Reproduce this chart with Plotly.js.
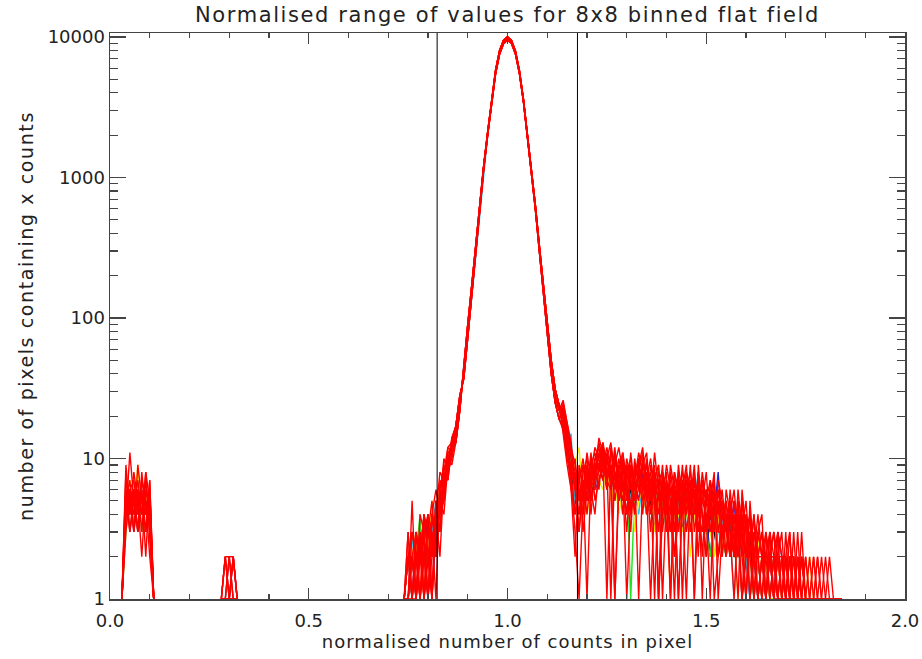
<!DOCTYPE html>
<html><head><meta charset="utf-8">
<script src="https://cdn.plot.ly/plotly-3.0.1.min.js"></script>
<style>
html,body{margin:0;padding:0;background:#fff;}
#chart{width:922px;height:659px;}
.gtitle{letter-spacing:1.6px;}
.xtitle{letter-spacing:1px;}
.ytitle{letter-spacing:1.6px;}
</style></head><body><div id="chart"></div>
<script>
// bin centres (normalised counts), bin width 0.01
const binsLeft = [0.03,0.04,0.05,0.06,0.07,0.08,0.09,0.10,0.11];
const binsSmall = [0.28,0.29,0.30,0.31,0.32];
const mainStart = 0.74, mainStep = 0.01, mainCount = 111; // 0.74 .. 1.84

const seriesNames = ['black','blue','cyan','green','yellow','r1','r2','r3','r4','r5','r6','r7','r8','r9','r10','r11','r12'];
const seriesColors = ['#000000','#2b1fd1','#10c8f0','#22e022','#f0f000',
  '#ff0000','#ff0000','#ff0000','#ff0000','#ff0000','#ff0000','#ff0000','#ff0000','#ff0000','#ff0000','#ff0000','#ff0000'];
const coreVariant = ['A','B','C','A','B','A','B','C','A','B','C','A','B','C','A','B','C'];

// counts, bins 0.03..0.11
const leftSpike = [
 [1,5,4,6,3,5,4,6,1],[1,4,6,3,5,4,7,3,1],[1,6,3,5,4,6,3,5,1],[1,3,5,4,7,3,5,4,1],[1,5,7,4,9,4,6,3,1],
 [1,9,4,6,3,7,5,4,1],[1,4,11,5,6,3,8,5,1],[1,6,5,3,9,5,4,6,1],[1,3,6,7,4,6,3,7,1],[1,5,3,6,5,2,6,4,1],
 [1,7,5,4,6,4,8,3,1],[1,4,6,5,3,8,4,5,1],[1,6,4,8,5,4,5,2,1],[1,5,7,3,6,5,3,6,1],[1,4,5,6,4,7,5,3,1],
 [1,8,3,5,7,4,6,5,1],[1,5,6,4,5,6,2,7,1]
];
// counts, bins 0.28..0.32
const smallSpike = [
 [1,1,1,1,1],[1,1,1,2,1],[1,1,2,1,1],[1,1,1,1,1],[1,1,1,1,1],[1,2,1,1,1],[1,1,2,2,1],[1,2,1,2,1],
 [1,1,1,2,1],[1,1,1,1,1],[1,2,2,1,1],[1,1,1,1,1],[1,1,2,1,1],[1,1,1,1,1],[1,2,1,1,1],[1,1,1,2,1],[1,1,1,1,1]
];
// counts, bins 0.74..0.86
const wing = [
 [1,1,2,1,3,1,2,4,2,5,6,9,12],[1,2,1,3,1,2,4,1,3,4,7,8,11],[1,1,3,1,2,4,1,3,5,3,8,10,13],
 [1,2,1,2,4,1,3,2,4,6,5,9,10],[1,1,2,3,1,3,2,5,3,4,7,11,12],[1,3,1,2,1,4,2,1,5,4,9,7,13],
 [1,1,5,1,3,2,1,4,2,6,5,10,9],[1,2,1,3,2,1,4,3,1,7,6,8,14],[1,1,2,1,4,3,1,2,5,3,8,12,11],
 [1,2,3,2,1,2,3,5,2,5,4,9,12],[1,1,1,3,2,4,2,1,4,2,7,10,13],[1,2,2,1,3,1,4,2,3,6,9,8,10],
 [1,1,3,2,1,3,1,4,6,4,5,11,12],[1,2,1,1,2,4,3,2,4,8,7,9,14],[1,1,2,3,1,2,1,3,2,5,10,8,11],
 [1,3,1,2,3,1,2,4,3,4,6,12,13],[1,1,2,1,2,3,4,1,5,3,8,7,12]
];
// counts, bins 0.87..1.13 (main peak)
const coreA = [15,25,41,81,158,316,617,1175,2042,3548,5623,7762,9226,9772,9226,7762,5623,3548,2042,1175,617,316,158,81,45,28,22];
const coreB = [13,22,46,90,170,330,640,1210,2100,3650,5800,8000,9500,10050,9450,7950,5750,3620,2090,1200,640,330,170,88,50,31,24];
const coreC = [17,28,37,72,146,300,590,1130,1980,3450,5450,7520,8950,9500,8980,7560,5480,3470,1990,1140,595,300,147,74,40,25,19];
// counts, bins 1.14..1.84
const tail = [
 [20,12,8,5,4,6,7,5,8,9, 7,10,6,8,5,7,4,6,5,8, 6,4,5,3,6,4,5,3,4,6, 3,5,4,6,3,4,2,4,3,2, 3,2,4,2,3,1,2,3,1,2, 1,2,1,2,1,1,2,1,1,1, 2,1,1,1,1,1,1,1,1,1, 1],
 [22,14,9,6,5,7,5,8,6,7, 9,6,8,7,5,9,6,4,7,5, 8,5,7,4,5,6,3,5,2,4, 5,3,6,4,5,3,4,2,4,8, 3,4,3,5,2,3,2,1,2,1, 2,1,2,1,3,2,1,1,1,1, 1,1,1,1,1,1,1,1,1,1, 1],
 [18,12,15,4,6,5,7,8,6,9, 8,7,9,5,6,4,8,5,6,4, 7,5,4,6,3,5,4,6,3,5, 4,6,3,5,8,4,3,5,2,3, 4,2,3,1,3,2,2,1,2,1, 1,1,2,1,1,1,1,2,1,1, 1,1,1,1,1,1,1,1,1,1, 1],
 [19,13,9,7,5,4,8,6,9,10, 12,9,7,10,6,5,8,1,6,7, 5,8,6,4,9,5,3,5,4,3, 6,4,3,5,6,4,3,2,4,3, 3,2,4,2,2,3,1,2,1,2, 1,2,1,1,2,1,1,1,1,1, 1,1,1,1,1,1,1,1,1,1, 1],
 [17,11,7,9,12,5,4,6,8,7, 6,9,5,7,4,6,5,8,3,5, 6,4,7,3,5,4,6,1,5,4, 3,5,2,4,6,3,4,3,2,4, 2,3,2,3,1,2,2,3,2,3, 1,2,1,1,2,1,1,2,1,1, 1,1,2,1,1,1,1,1,1,1, 1],
 [24,16,11,8,3,6,9,7,10,12, 8,11,7,1,6,10,5,7,4,9, 12,6,8,5,7,1,6,4,8,5, 7,4,9,3,5,6,4,3,5,2, 4,3,5,2,6,3,2,4,1,3, 2,1,3,1,2,1,1,2,1,1, 1,2,1,1,1,1,1,1,1,1, 1],
 [21,13,6,4,7,9,5,10,7,13, 10,6,12,7,9,4,8,10,6,5, 9,11,5,8,1,7,5,1,6,7, 4,8,5,6,2,7,5,4,6,3, 5,2,4,6,3,1,4,2,3,2, 3,2,1,2,3,1,2,1,1,2, 1,1,1,2,1,1,1,1,1,1, 1],
 [16,10,7,3,1,5,8,6,4,9, 11,7,9,5,8,11,6,3,9,7, 5,7,10,6,3,8,4,6,3,9, 5,1,7,4,8,1,6,5,3,6, 3,5,2,4,2,5,3,1,2,4, 2,1,2,3,1,2,1,3,1,1, 2,1,1,1,2,1,1,1,1,1, 1],
 [26,17,12,9,6,4,7,9,11,8, 13,9,1,10,7,5,9,6,8,1, 7,9,5,11,6,4,7,5,2,6, 8,5,4,7,3,5,8,3,4,5, 2,4,3,2,5,2,1,3,2,1, 2,2,2,2,1,1,3,1,2,1, 1,1,1,1,1,2,1,1,1,1, 1],
 [20,11,9,6,8,3,6,11,5,7, 9,12,8,6,10,7,3,8,7,11, 8,5,6,9,1,6,8,1,7,3, 6,9,3,5,7,4,2,7,5,4, 6,3,2,5,3,4,2,2,4,2, 2,2,3,1,1,2,1,1,3,1, 1,1,1,1,2,1,1,1,1,1, 1],
 [23,15,10,7,4,8,10,4,9,6, 12,8,10,1,7,9,5,11,6,8, 6,10,4,7,5,9,3,8,5,4, 9,4,6,1,5,7,3,6,1,2, 4,5,3,1,4,3,5,2,1,3, 4,1,2,1,2,3,1,2,1,1, 3,1,1,1,1,1,1,1,1,1, 1],
 [18,14,8,10,5,7,4,8,12,10, 7,10,13,8,5,6,10,7,5,6, 10,6,1,5,8,6,4,9,6,1, 5,7,4,8,4,3,6,4,7,3, 3,2,6,3,2,4,2,3,2,1, 2,3,1,2,1,1,2,1,2,1, 1,1,1,1,1,1,2,1,1,1, 1],
 [15,9,6,2,9,6,11,7,6,11, 9,7,6,11,8,6,7,9,4,10, 4,8,5,7,9,3,6,7,4,8, 1,6,8,5,6,5,4,1,6,4, 5,4,2,3,1,6,3,4,2,2, 1,2,2,1,3,2,1,1,1,2, 1,2,1,1,1,1,1,1,1,1, 1],
 [25,18,13,6,7,10,6,9,8,14, 11,8,7,9,12,8,1,5,8,9, 7,4,9,6,4,7,5,3,8,6, 4,7,5,9,3,6,5,7,3,5, 2,6,4,2,5,2,4,1,3,2, 3,1,2,2,1,1,2,3,1,1, 2,1,1,1,1,1,1,2,1,1, 1],
 [19,12,8,4,6,5,9,5,7,8, 10,1,9,6,8,11,7,4,10,6, 9,7,3,8,6,5,9,6,5,7, 6,5,7,1,9,4,3,5,8,1, 3,4,2,4,2,3,1,5,2,3, 2,2,2,3,2,2,2,1,1,2, 1,1,1,1,1,1,1,1,1,1, 1],
 [22,13,7,8,5,9,7,6,10,9, 8,10,7,12,6,8,9,6,7,10, 6,9,7,1,7,8,6,5,1,7, 7,3,5,6,4,8,5,3,5,6, 4,3,5,3,4,1,2,3,2,2, 1,3,2,1,2,1,1,2,2,1, 2,1,2,1,1,1,1,1,1,1, 1],
 [17,10,9,6,3,7,1,8,9,10, 13,7,11,8,5,7,4,9,5,8, 11,5,6,8,1,4,7,3,6,1, 5,8,6,4,7,2,6,4,3,7, 5,3,4,2,3,5,2,2,4,1, 2,1,3,2,1,2,1,1,1,3, 1,1,1,2,1,1,1,1,1,1, 1]
];
// flat-field cut limits
const cutLow = 0.823, cutHigh = 1.176;

const xTickVals = [0, 0.5, 1, 1.5, 2];
const xTickText = ['0.0', '0.5', '1.0', '1.5', '2.0'];
const xMinorVals = [0.1,0.2,0.3,0.4,0.6,0.7,0.8,0.9,1.1,1.2,1.3,1.4,1.6,1.7,1.8,1.9];
const yTickVals = [1, 10, 100, 1000, 10000];
const yTickText = ['1', '10', '100', '1000', '10000'];
const yMinorVals = [2,3,4,5,6,7,8,9,20,30,40,50,60,70,80,90,200,300,400,500,600,700,800,900,2000,3000,4000,5000,6000,7000,8000,9000];

const mainBins = [];
for (let i = 0; i < mainCount; i++) mainBins.push(Math.round((mainStart + i * mainStep) * 100) / 100);
const cores = {A: coreA, B: coreB, C: coreC};

const traces = seriesNames.map((name, s) => ({
  type: 'scatter', mode: 'lines', name: name,
  x: [...binsLeft, 0.2, ...binsSmall, 0.5, ...mainBins],
  y: [...leftSpike[s], null, ...smallSpike[s], null, ...wing[s], ...cores[coreVariant[s]], ...tail[s]],
  line: {color: seriesColors[s], width: 1.4},
  hoverinfo: 'skip', showlegend: false
}));

const axColor = '#444';
const fontFam = 'DejaVu Sans, sans-serif';
const layout = {
  width: 922, height: 659,
  margin: {l: 110, r: 17, t: 33, b: 60},
  paper_bgcolor: '#fff', plot_bgcolor: '#fff',
  showlegend: false,
  title: {text: 'Normalised range of values for 8x8 binned flat field', x: 0.5, xref: 'paper', y: 0.978, yref: 'container', yanchor: 'middle',
          font: {family: fontFam, size: 21, color: '#222'}},
  xaxis: {range: [0, 2], showgrid: false, zeroline: false, showline: true, mirror: 'ticks', linecolor: axColor, linewidth: 1.5,
          ticks: 'inside', ticklen: 11, tickwidth: 1.2, tickcolor: axColor, ticklabelstandoff: 5,
          tickmode: 'array', tickvals: xTickVals, ticktext: xTickText,
          minor: {ticks: 'inside', ticklen: 5, tickwidth: 1.2, tickcolor: axColor, tickmode: 'array', tickvals: xMinorVals},
          tickfont: {family: fontFam, size: 18, color: '#222'},
          title: {text: 'normalised number of counts in pixel', standoff: 4, font: {family: fontFam, size: 18, color: '#222'}}},
  yaxis: {type: 'log', range: [0, 4.028], showgrid: false, zeroline: false, showline: true, mirror: 'ticks', linecolor: axColor, linewidth: 1.5,
          ticks: 'inside', ticklen: 16, tickwidth: 1.2, tickcolor: axColor,
          tickmode: 'array', tickvals: yTickVals, ticktext: yTickText,
          minor: {ticks: 'inside', ticklen: 8, tickwidth: 1.2, tickcolor: axColor, tickmode: 'array', tickvals: yMinorVals},
          tickfont: {family: fontFam, size: 18, color: '#222'},
          title: {text: 'number of pixels containing x counts', standoff: 9, font: {family: fontFam, size: 19, color: '#222'}}},
  shapes: [
    {type: 'line', xref: 'x', yref: 'paper', x0: cutLow, x1: cutLow, y0: 0, y1: 1, line: {color: '#000', width: 1}},
    {type: 'line', xref: 'x', yref: 'paper', x0: cutHigh, x1: cutHigh, y0: 0, y1: 1, line: {color: '#000', width: 1}}
  ]
};
Plotly.newPlot('chart', traces, layout, {staticPlot: true, displayModeBar: false});
</script></body></html>
